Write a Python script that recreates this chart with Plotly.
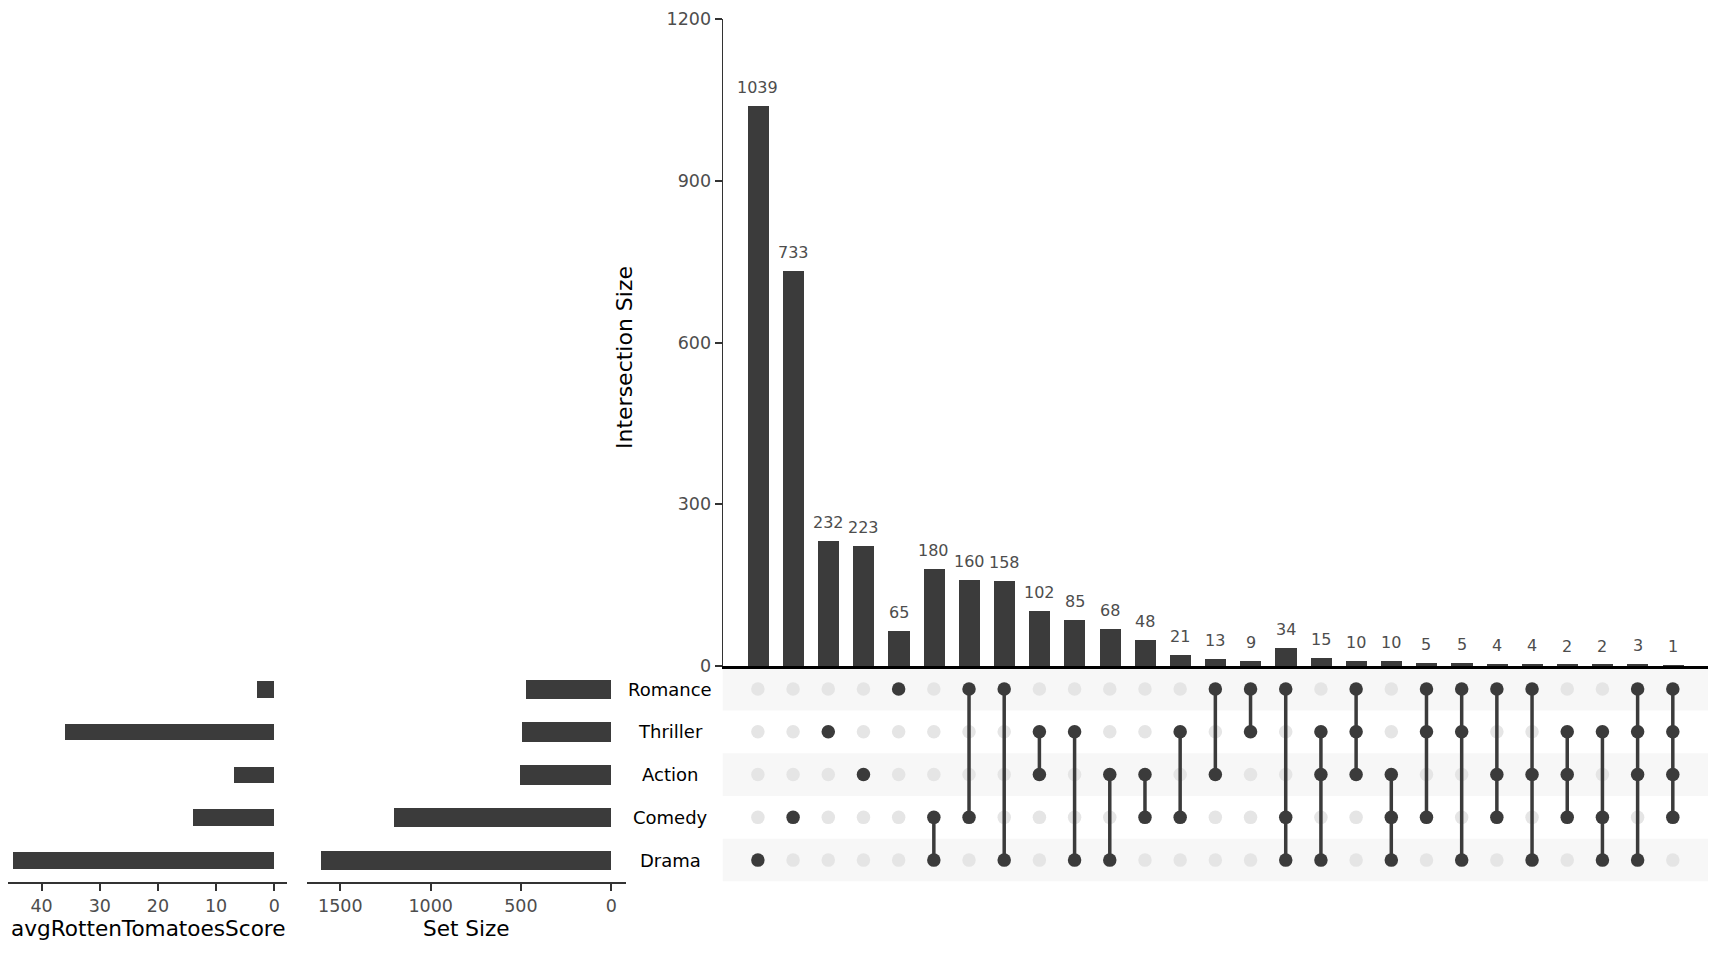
import plotly.graph_objects as go

# sets, top to bottom in the matrix
sets = ["Romance", "Thriller", "Action", "Comedy", "Drama"]
set_sizes = [471, 492, 503, 1200, 1603]
avg_scores = [3.0, 36.0, 6.9, 14.0, 45.0]

# intersections, left to right
intersection_sizes = [1039, 733, 232, 223, 65, 180, 160, 158, 102, 85, 68, 48, 21,
                      13, 9, 34, 15, 10, 10, 5, 5, 4, 4, 2, 2, 3, 1]
intersection_members = [
    ["Drama"], ["Comedy"], ["Thriller"], ["Action"], ["Romance"],
    ["Comedy", "Drama"], ["Romance", "Comedy"], ["Romance", "Drama"],
    ["Thriller", "Action"], ["Thriller", "Drama"], ["Action", "Drama"],
    ["Action", "Comedy"], ["Thriller", "Comedy"], ["Romance", "Action"],
    ["Romance", "Thriller"], ["Romance", "Comedy", "Drama"],
    ["Thriller", "Action", "Drama"], ["Romance", "Thriller", "Action"],
    ["Action", "Comedy", "Drama"], ["Romance", "Thriller", "Comedy"],
    ["Romance", "Thriller", "Drama"], ["Romance", "Action", "Comedy"],
    ["Romance", "Action", "Drama"], ["Thriller", "Action", "Comedy"],
    ["Thriller", "Comedy", "Drama"], ["Romance", "Thriller", "Action", "Drama"],
    ["Romance", "Thriller", "Action", "Comedy"],
]

# page body has an 8px margin, so the figure is a bit smaller than the window
OFF = 8
W, H = 1728 - OFF, 960 - OFF
FONT = "DejaVu Sans"
DARK = "#3b3b3b"
TICK = "#4d4d4d"


def px(x):
    return (x - OFF) / W


def py(y):
    return 1 - (y - OFF) / H


cols = list(range(len(intersection_sizes)))
rows = list(range(len(sets)))

# domains (measured in window pixels)
x_main = [px(722.7), px(1708)]
y_bars = [py(666), py(19)]
y_matrix = [py(881.5), py(667.7)]
x_size = [px(307.3), px(625.7)]
x_score = [0, px(287.3)]

fig = go.Figure()

# intersection size bars
fig.add_trace(go.Bar(
    x=cols, y=intersection_sizes, width=0.6,
    marker=dict(color=DARK, line=dict(width=0)),
    xaxis="x", yaxis="y", hoverinfo="skip"
))

# matrix dots and connecting lines
in_x, in_y, ac_x, ac_y = [], [], [], []
line_x, line_y = [], []
for j, members in enumerate(intersection_members):
    idx = [sets.index(m) for m in members]
    for i in rows:
        if i in idx:
            ac_x.append(j)
            ac_y.append(i)
        else:
            in_x.append(j)
            in_y.append(i)
    if len(idx) > 1:
        line_x += [j, j, None]
        line_y += [min(idx), max(idx), None]

fig.add_trace(go.Scatter(
    x=in_x, y=in_y, mode="markers",
    marker=dict(size=13.5, color="#e5e5e5"),
    xaxis="x2", yaxis="y2", hoverinfo="skip"
))
fig.add_trace(go.Scatter(
    x=line_x, y=line_y, mode="lines",
    line=dict(width=3.5, color=DARK),
    xaxis="x2", yaxis="y2", hoverinfo="skip"
))
fig.add_trace(go.Scatter(
    x=ac_x, y=ac_y, mode="markers",
    marker=dict(size=13.5, color=DARK),
    xaxis="x2", yaxis="y2", hoverinfo="skip"
))

# set size bars
fig.add_trace(go.Bar(
    x=set_sizes, y=rows, orientation="h", width=0.46,
    marker=dict(color=DARK, line=dict(width=0)),
    xaxis="x3", yaxis="y3", hoverinfo="skip"
))

# avg score bars
fig.add_trace(go.Bar(
    x=avg_scores, y=rows, orientation="h", width=0.39,
    marker=dict(color=DARK, line=dict(width=0)),
    xaxis="x4", yaxis="y4", hoverinfo="skip"
))

# background stripes on the matrix
shapes = []
for i in rows[::2]:
    shapes.append(dict(
        type="rect", xref="x2 domain", yref="y2",
        x0=0, x1=1, y0=i - 0.5, y1=i + 0.5,
        fillcolor="#f7f7f7", line=dict(width=0), layer="below"
    ))

annotations = []
# count labels above the intersection bars
for j, v in zip(cols, intersection_sizes):
    annotations.append(dict(
        x=j, y=v, xref="x", yref="y", text=str(v), showarrow=False,
        xanchor="center", yanchor="bottom", yshift=7,
        font=dict(family=FONT, size=16, color=TICK)
    ))
for i, name in enumerate(sets):
    annotations.append(dict(
        x=px(670), y=i, xref="paper", yref="y2", text=name, showarrow=False,
        xanchor="center", yanchor="middle",
        font=dict(family=FONT, size=18, color="black")
    ))
annotations += [
    dict(x=px(624), y=py(358), xref="paper", yref="paper",
         text="Intersection Size", textangle=-90, showarrow=False,
         xanchor="center", yanchor="middle",
         font=dict(family=FONT, size=22, color="black")),
    dict(x=px(466.5), y=py(928), xref="paper", yref="paper",
         text="Set Size", showarrow=False, xanchor="center", yanchor="middle",
         font=dict(family=FONT, size=21.6, color="black")),
    dict(x=px(148), y=py(928), xref="paper", yref="paper",
         text="avgRottenTomatoesScore", showarrow=False,
         xanchor="center", yanchor="middle",
         font=dict(family=FONT, size=21.6, color="black")),
]

row_range = [len(sets) - 0.5, -0.5]
col_range = [-1, len(cols)]
tickfont = dict(family=FONT, size=17.5, color=TICK)
hidden = dict(showgrid=False, zeroline=False, showticklabels=False, ticks="",
              showline=False, automargin=False)
# score axis: 10 units = 58.1 px, 0 at x=274, left edge of plot is x=8
score_left = (274 - OFF) / 5.81

fig.update_layout(
    width=W, height=H, margin=dict(l=0, r=0, t=0, b=0),
    paper_bgcolor="white", plot_bgcolor="rgba(0,0,0,0)",
    showlegend=False, bargap=0, shapes=shapes, annotations=annotations,
    font=dict(family=FONT),
    xaxis=dict(domain=x_main, range=col_range, anchor="y", showgrid=False,
               zeroline=False, showticklabels=False, ticks="",
               showline=True, linewidth=2.5, linecolor="black", automargin=False),
    yaxis=dict(domain=y_bars, range=[0, 1200], anchor="x",
               tickvals=[0, 300, 600, 900, 1200], ticks="outside", ticklen=7,
               tickwidth=2, tickcolor="#333333", tickfont=tickfont,
               showline=True, linewidth=1.3, linecolor="#333333",
               showgrid=False, zeroline=False, automargin=False),
    xaxis2=dict(domain=x_main, range=col_range, anchor="y2", **hidden),
    yaxis2=dict(domain=y_matrix, range=row_range, anchor="x2", **hidden),
    xaxis3=dict(domain=x_size, range=[1683.15, -80.15], anchor="y3",
                tickvals=[0, 500, 1000, 1500], ticks="outside", ticklen=7,
                tickwidth=2, tickcolor="#333333", tickfont=tickfont,
                showline=True, linewidth=2, linecolor="#333333",
                showgrid=False, zeroline=False, automargin=False),
    yaxis3=dict(domain=y_matrix, range=row_range, anchor="x3", **hidden),
    xaxis4=dict(domain=x_score, range=[score_left, -2.25], anchor="y4",
                tickvals=[0, 10, 20, 30, 40], ticks="outside", ticklen=7,
                tickwidth=2, tickcolor="#333333", tickfont=tickfont,
                showline=True, linewidth=2, linecolor="#333333",
                showgrid=False, zeroline=False, automargin=False),
    yaxis4=dict(domain=y_matrix, range=row_range, anchor="x4", **hidden),
)

fig.write_html("out.html")
